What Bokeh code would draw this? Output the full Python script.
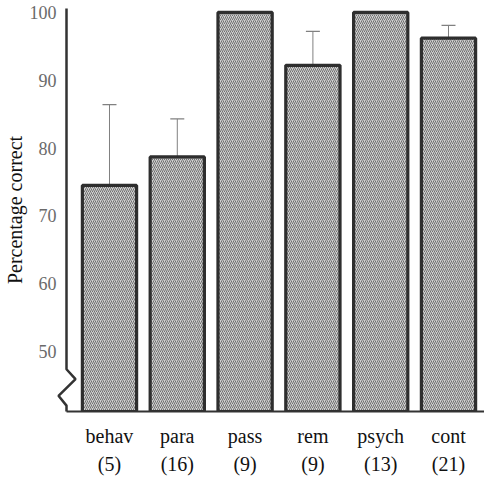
from bokeh.plotting import figure
from bokeh.models import ColumnDataSource, Range1d, FixedTicker, Whisker, TeeHead
from bokeh.embed import file_html
from bokeh.resources import INLINE

# ---- data ----
categories = ["behav", "para", "pass", "rem", "psych", "cont"]
counts = [5, 16, 9, 9, 13, 21]
percent_correct = [74.5, 78.7, 100, 92.2, 100, 96.2]
error_upper = [86.4, 84.3, None, 97.2, None, 98.1]
y_ticks = [50, 60, 70, 80, 90, 100]

Y_START, Y_END = 41.16, 100.58
X_START, X_END = -0.134, 6.031

xs = [i + 0.5 for i in range(len(categories))]
labels = {x: f"{c}\n({n})" for x, c, n in zip(xs, categories, counts)}

p = figure(width=484, height=478, output_backend="svg", toolbar_location=None,
           x_range=Range1d(X_START, X_END), y_range=Range1d(Y_START, Y_END),
           min_border_left=66, min_border_right=0, min_border_top=8, min_border_bottom=60)
p.background_fill_color = "white"
p.border_fill_color = "white"
p.outline_line_color = None
p.grid.visible = False

serif = "Liberation Serif"

# bars
src = ColumnDataSource(dict(x=xs, top=percent_correct))
p.vbar(x="x", top="top", bottom=Y_START, width=0.8, source=src,
       fill_color="#d0d0d0", hatch_pattern="/", hatch_scale=4,
       hatch_color="#707070", hatch_weight=1.0,
       line_color="#2e2e2e", line_width=3.2)

# error bars (upper only)
ex = [x for x, e in zip(xs, error_upper) if e is not None]
elo = [v for v, e in zip(percent_correct, error_upper) if e is not None]
ehi = [e for e in error_upper if e is not None]
esrc = ColumnDataSource(dict(base=ex, lower=elo, upper=ehi))
w = Whisker(base="base", lower="lower", upper="upper", source=esrc,
            line_color="#808080", line_width=1, lower_head=None,
            upper_head=TeeHead(size=14, line_color="#808080", line_width=1.2),
            level="underlay")
p.add_layout(w)

# y axis line with break mark (offsets in pixels converted to data units)
px_x = (X_END - X_START) / 418.0
px_y = (Y_END - Y_START) / 410.0
brk = [(0, 43), (9, 33), (-8, 16), (0, 6), (0, 0)]
ax_x = [X_START, X_START] + [X_START + dx * px_x for dx, dy in brk]
ax_y = [Y_END, Y_START + 43 * px_y] + [Y_START + dy * px_y for dx, dy in brk]
p.line(ax_x, ax_y, line_color="#333333", line_width=2.5, level="overlay")

# axes styling
p.yaxis.ticker = FixedTicker(ticks=y_ticks)
p.yaxis.axis_line_color = None
p.yaxis.major_tick_line_color = None
p.yaxis.minor_tick_line_color = None
p.yaxis.major_label_text_font = serif
p.yaxis.major_label_text_font_size = "18px"
p.yaxis.major_label_text_color = "#6a6a6a"
p.yaxis.major_label_standoff = 4
p.yaxis.axis_label = "Percentage correct"
p.yaxis.axis_label_text_font = serif
p.yaxis.axis_label_text_font_size = "20px"
p.yaxis.axis_label_text_font_style = "normal"
p.yaxis.axis_label_text_color = "#111111"
p.yaxis.axis_label_standoff = 1

p.xaxis.ticker = FixedTicker(ticks=xs)
p.xaxis.major_label_overrides = labels
p.xaxis.axis_line_color = "#333333"
p.xaxis.axis_line_width = 2
p.xaxis.major_tick_line_color = None
p.xaxis.minor_tick_line_color = None
p.xaxis.major_label_text_font = serif
p.xaxis.major_label_text_font_size = "20px"
p.xaxis.major_label_text_color = "#111111"
p.xaxis.major_label_text_line_height = 1.3
p.xaxis.major_label_standoff = 7

open("out.html", "w").write(file_html(p, INLINE))
